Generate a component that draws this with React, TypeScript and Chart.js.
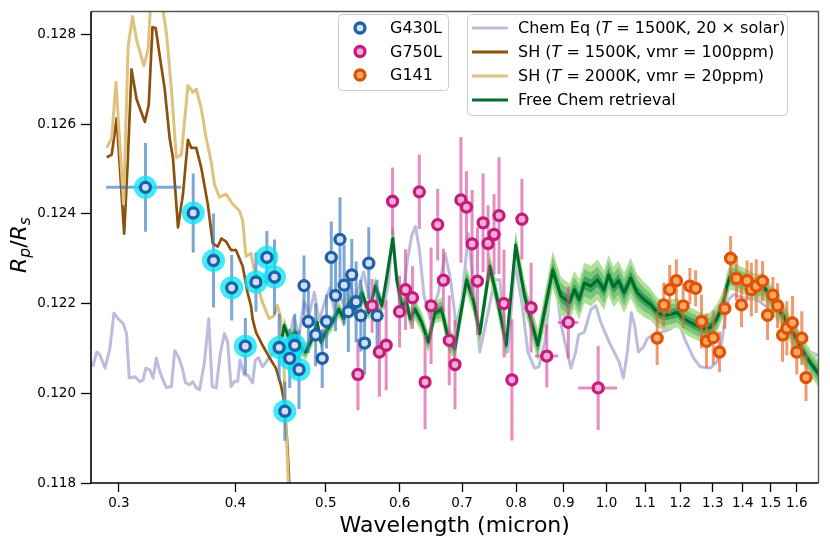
import React, { useEffect, useRef } from 'react';
import { Chart, registerables } from 'chart.js';

Chart.register(...registerables);

const FONT = '"DejaVu Sans", "Liberation Sans", sans-serif';

// ---------------- axis ticks ----------------
const xTickValues = [0.3, 0.4, 0.5, 0.6, 0.7, 0.8, 0.9, 1.0, 1.1, 1.2, 1.3, 1.4, 1.5, 1.6];
const yTickValues = [0.118, 0.12, 0.122, 0.124, 0.126, 0.128];

// ---------------- G430L ----------------
const g430lWl = [0.3203, 0.3604, 0.3789, 0.3963, 0.4099, 0.4208, 0.4323, 0.4405, 0.4456, 0.4519, 0.4574, 0.4631, 0.4680, 0.4738, 0.4789, 0.4876, 0.4956, 0.5009, 0.5068, 0.5122, 0.5178, 0.5231, 0.5286, 0.5331, 0.5389, 0.5452, 0.5503, 0.5560, 0.5675];
const g430lDepth = [0.12459, 0.12402, 0.12296, 0.12235, 0.12105, 0.12248, 0.12303, 0.12259, 0.12102, 0.11960, 0.12078, 0.12107, 0.12053, 0.12240, 0.12160, 0.12130, 0.12078, 0.12160, 0.12303, 0.12218, 0.12343, 0.12241, 0.12182, 0.12264, 0.12204, 0.12173, 0.12112, 0.12290, 0.12173];
const g430lErr = [0.00099, 0.00088, 0.00105, 0.00073, 0.00063, 0.00066, 0.00059, 0.00084, 0.00075, 0.00066, 0.00066, 0.00070, 0.00088, 0.00067, 0.00070, 0.00070, 0.00066, 0.00060, 0.00080, 0.00080, 0.00094, 0.00090, 0.00090, 0.00080, 0.00090, 0.00080, 0.00070, 0.00080, 0.00080];
const g430lXErr = [0.0296, 0, 0, 0, 0, 0, 0, 0, 0, 0, 0, 0, 0, 0, 0, 0, 0, 0, 0, 0, 0, 0, 0, 0, 0, 0, 0, 0, 0];
const g430lFlagged = [1, 1, 1, 1, 1, 1, 1, 1, 1, 1, 1, 1, 1, 0, 0, 0, 0, 0, 0, 0, 0, 0, 0, 0, 0, 0, 0, 0, 0];

// ---------------- G750L ----------------
const g750lWl = [0.5413, 0.5606, 0.5707, 0.5804, 0.5896, 0.5999, 0.6088, 0.6194, 0.6299, 0.6389, 0.6485, 0.6591, 0.6685, 0.6782, 0.6879, 0.6980, 0.7076, 0.7176, 0.7271, 0.7373, 0.7464, 0.7576, 0.7669, 0.7763, 0.7917, 0.8115, 0.8302, 0.8629, 0.9101, 0.9797];
const g750lDepth = [0.12042, 0.12195, 0.12092, 0.12107, 0.12428, 0.12182, 0.12231, 0.12213, 0.12449, 0.12025, 0.12195, 0.12376, 0.12252, 0.12118, 0.12064, 0.12431, 0.12415, 0.12333, 0.12250, 0.12380, 0.12334, 0.12354, 0.12396, 0.12200, 0.12030, 0.12388, 0.12191, 0.12083, 0.12158, 0.12012];
const g750lErr = [0.00080, 0.00060, 0.00100, 0.00100, 0.00075, 0.00080, 0.00090, 0.00070, 0.00083, 0.00105, 0.00130, 0.00080, 0.00070, 0.00100, 0.00100, 0.00140, 0.00080, 0.00120, 0.00120, 0.00110, 0.00085, 0.00090, 0.00130, 0.00120, 0.00135, 0.00090, 0.00100, 0.00070, 0.00080, 0.00094];
const g750lXErr = [0, 0, 0, 0, 0, 0, 0, 0, 0, 0, 0, 0, 0, 0, 0, 0, 0, 0, 0, 0, 0, 0, 0, 0, 0, 0, 0, 0.025, 0.023, 0.047];

// ---------------- G141 ----------------
const g141Wl = [1.1333, 1.1519, 1.1690, 1.1884, 1.2084, 1.2287, 1.2462, 1.2644, 1.2801, 1.3016, 1.3220, 1.3393, 1.3585, 1.3786, 1.3956, 1.4150, 1.4300, 1.4475, 1.4702, 1.4885, 1.5084, 1.5257, 1.5447, 1.5610, 1.5831, 1.5999, 1.6197, 1.6368];
const g141Depth = [0.12123, 0.12197, 0.12231, 0.12251, 0.12195, 0.12239, 0.12234, 0.12160, 0.12116, 0.12124, 0.12092, 0.12189, 0.12301, 0.12256, 0.12197, 0.12251, 0.12231, 0.12239, 0.12250, 0.12174, 0.12219, 0.12195, 0.12130, 0.12145, 0.12157, 0.12092, 0.12123, 0.12035];
const g141Err = [0.00060, 0.00050, 0.00055, 0.00048, 0.00050, 0.00040, 0.00040, 0.00060, 0.00060, 0.00060, 0.00045, 0.00045, 0.00050, 0.00050, 0.00050, 0.00045, 0.00060, 0.00060, 0.00045, 0.00055, 0.00040, 0.00050, 0.00060, 0.00060, 0.00060, 0.00050, 0.00060, 0.00052];

// ---------------- Chem Eq model ----------------
const chemWl = [0.2812, 0.2840, 0.2863, 0.2899, 0.2934, 0.2963, 0.2995, 0.3032, 0.3057, 0.3077, 0.3120, 0.3159, 0.3185, 0.3206, 0.3238, 0.3264, 0.3291, 0.3318, 0.3351, 0.3373, 0.3415, 0.3443, 0.3476, 0.3508, 0.3537, 0.3572, 0.3601, 0.3631, 0.3661, 0.3706, 0.3745, 0.3777, 0.3814, 0.3854, 0.3892, 0.3924, 0.3957, 0.3989, 0.4022, 0.4046, 0.4089, 0.4122, 0.4173, 0.4201, 0.4235, 0.4277, 0.4329, 0.4383, 0.4440, 0.4500, 0.4560, 0.4620, 0.4680, 0.4740, 0.4800, 0.4860, 0.4920, 0.4980, 0.5050, 0.5110, 0.5170, 0.5230, 0.5300, 0.5360, 0.5430, 0.5490, 0.5560, 0.5630, 0.5700, 0.5770, 0.5840, 0.5900, 0.5950, 0.6000, 0.6060, 0.6120, 0.6180, 0.6240, 0.6300, 0.6370, 0.6469, 0.6602, 0.6712, 0.6800, 0.6900, 0.7000, 0.7107, 0.7212, 0.7314, 0.7464, 0.7588, 0.7682, 0.7745, 0.7840, 0.7977, 0.8115, 0.8235, 0.8372, 0.8461, 0.8587, 0.8714, 0.8790, 0.8931, 0.9048, 0.9160, 0.9266, 0.9335, 0.9466, 0.9622, 0.9740, 0.9860, 0.9943, 1.0066, 1.0191, 1.0316, 1.0426, 1.0529, 1.0634, 1.0720, 1.0818, 1.0951, 1.1060, 1.1224, 1.1447, 1.1703, 1.1956, 1.2142, 1.2404, 1.2607, 1.2921, 1.3136, 1.3297, 1.3406, 1.3518, 1.3685, 1.4026, 1.4491, 1.4973, 1.5473, 1.5988, 1.6519, 1.6877];
const chemDepth = [0.12059, 0.12092, 0.12085, 0.12056, 0.12100, 0.12179, 0.12166, 0.12155, 0.12133, 0.12034, 0.12037, 0.12026, 0.12030, 0.12056, 0.12052, 0.12034, 0.12078, 0.12048, 0.12026, 0.12013, 0.12015, 0.12095, 0.12081, 0.12056, 0.12023, 0.12019, 0.12026, 0.12012, 0.12008, 0.12070, 0.12166, 0.12015, 0.12012, 0.12089, 0.12133, 0.12114, 0.12015, 0.12026, 0.12026, 0.12074, 0.12041, 0.12041, 0.12023, 0.12074, 0.12079, 0.12059, 0.12074, 0.12089, 0.12095, 0.12140, 0.12115, 0.12170, 0.12130, 0.12205, 0.12175, 0.12225, 0.12160, 0.12200, 0.12235, 0.12180, 0.12220, 0.12195, 0.12255, 0.12205, 0.12240, 0.12270, 0.12215, 0.12180, 0.12225, 0.12190, 0.12250, 0.12365, 0.12260, 0.12200, 0.12230, 0.12300, 0.12350, 0.12372, 0.12320, 0.12220, 0.12166, 0.12224, 0.12312, 0.12257, 0.12150, 0.12210, 0.12356, 0.12224, 0.12092, 0.12180, 0.12253, 0.12253, 0.12180, 0.12092, 0.12290, 0.12202, 0.12092, 0.12056, 0.12059, 0.12114, 0.12240, 0.12275, 0.12158, 0.12103, 0.12056, 0.12092, 0.12130, 0.12136, 0.12187, 0.12195, 0.12158, 0.12140, 0.12114, 0.12092, 0.12070, 0.12034, 0.12092, 0.12180, 0.12151, 0.12092, 0.12103, 0.12122, 0.12130, 0.12136, 0.12143, 0.12158, 0.12119, 0.12078, 0.12059, 0.12056, 0.12070, 0.12114, 0.12173, 0.12209, 0.12220, 0.12213, 0.12209, 0.12187, 0.12151, 0.12122, 0.12092, 0.12084];

// ---------------- SH models ----------------
const sh1500Wl = [0.2911, 0.2947, 0.2983, 0.3039, 0.3065, 0.3095, 0.3133, 0.3198, 0.3229, 0.3259, 0.3285, 0.3318, 0.3359, 0.3400, 0.3428, 0.3471, 0.3514, 0.3557, 0.3587, 0.3631, 0.3676, 0.3736, 0.3782, 0.3829, 0.3864, 0.3909, 0.3957, 0.4006, 0.4072, 0.4122, 0.4157, 0.4173, 0.4208, 0.4277, 0.4347, 0.4420, 0.4475, 0.4511, 0.4544, 0.4578];
const sh1500Depth = [0.12526, 0.12532, 0.12613, 0.12356, 0.12510, 0.12722, 0.12656, 0.12605, 0.12642, 0.12816, 0.12814, 0.12752, 0.12678, 0.12569, 0.12525, 0.12370, 0.12444, 0.12565, 0.12547, 0.12547, 0.12503, 0.12422, 0.12334, 0.12327, 0.12345, 0.12338, 0.12319, 0.12319, 0.12283, 0.12224, 0.12195, 0.12166, 0.12136, 0.12107, 0.12081, 0.12056, 0.12019, 0.11982, 0.11895, 0.11763];
const sh2000Wl = [0.2911, 0.2947, 0.2978, 0.3035, 0.3069, 0.3103, 0.3133, 0.3190, 0.3224, 0.3245, 0.3334, 0.3373, 0.3415, 0.3457, 0.3500, 0.3557, 0.3601, 0.3631, 0.3676, 0.3721, 0.3767, 0.3798, 0.3845, 0.3909, 0.3973, 0.4039, 0.4072, 0.4106, 0.4157, 0.4208, 0.4277, 0.4347, 0.4401, 0.4437, 0.4475, 0.4511, 0.4536, 0.4561];
const sh2000Depth = [0.12547, 0.12569, 0.12693, 0.12422, 0.12774, 0.12840, 0.12788, 0.12730, 0.12766, 0.12873, 0.12873, 0.12803, 0.12678, 0.12525, 0.12532, 0.12686, 0.12671, 0.12678, 0.12635, 0.12569, 0.12517, 0.12466, 0.12437, 0.12444, 0.12422, 0.12407, 0.12385, 0.12305, 0.12312, 0.12253, 0.12202, 0.12166, 0.12173, 0.12196, 0.12166, 0.12048, 0.11902, 0.11785];

// ---------------- Free Chem retrieval (median + 1 sigma width, in 1e-5) ----------------
const freeWl = [0.4489, 0.4511, 0.4567, 0.4642, 0.4692, 0.4758, 0.4836, 0.4895, 0.4940, 0.4997, 0.5079, 0.5163, 0.5227, 0.5292, 0.5379, 0.5467, 0.5558, 0.5651, 0.5743, 0.5814, 0.5900, 0.5959, 0.6032, 0.6103, 0.6158, 0.6234, 0.6336, 0.6441, 0.6548, 0.6655, 0.6766, 0.6878, 0.7077, 0.7195, 0.7314, 0.7496, 0.7650, 0.7808, 0.7990, 0.8169, 0.8440, 0.8757, 0.8937, 0.9124, 0.9237, 0.9351, 0.9466, 0.9622, 0.9781, 0.9943, 1.0049, 1.0173, 1.0299, 1.0444, 1.0615, 1.0791, 1.0970, 1.1150, 1.1335, 1.1523, 1.1711, 1.1906, 1.2103, 1.2301, 1.2505, 1.2713, 1.2921, 1.3136, 1.3353, 1.3462, 1.3571, 1.3797, 1.4026, 1.4255, 1.4491, 1.4732, 1.4973, 1.5222, 1.5473, 1.5728, 1.5988, 1.6254, 1.6519, 1.6877];
const freeDepth = [0.12125, 0.12151, 0.12122, 0.12136, 0.12103, 0.12092, 0.12122, 0.12158, 0.12114, 0.12136, 0.12158, 0.12187, 0.12166, 0.12202, 0.12187, 0.12224, 0.12180, 0.12239, 0.12195, 0.12261, 0.12345, 0.12253, 0.12195, 0.12202, 0.12166, 0.12187, 0.12158, 0.12114, 0.12180, 0.12187, 0.12122, 0.12100, 0.12253, 0.12209, 0.12133, 0.12283, 0.12202, 0.12107, 0.12330, 0.12217, 0.12107, 0.12275, 0.12217, 0.12202, 0.12231, 0.12209, 0.12246, 0.12239, 0.12253, 0.12230, 0.12264, 0.12237, 0.12251, 0.12224, 0.12257, 0.12224, 0.12209, 0.12198, 0.12180, 0.12173, 0.12176, 0.12180, 0.12166, 0.12158, 0.12151, 0.12144, 0.12147, 0.12166, 0.12202, 0.12239, 0.12261, 0.12257, 0.12250, 0.12242, 0.12235, 0.12239, 0.12217, 0.12195, 0.12173, 0.12144, 0.12122, 0.12092, 0.12070, 0.12044];
const freeSigma = [6, 6, 6, 6, 6, 6, 6, 6, 6, 6, 6, 6, 6, 7, 6, 7, 6, 7, 6, 7, 9, 8, 8, 8, 8, 8, 8, 8, 8, 9, 9, 9, 10, 10, 10, 10, 10, 10, 11, 11, 12, 14, 14, 14, 14, 15, 15, 15, 15, 15, 15, 15, 15, 15, 15, 14, 13, 12, 11, 11, 11, 11, 11, 11, 11, 11, 11, 11, 10, 10, 10, 10, 10, 10, 10, 10, 10, 10, 10, 10, 10, 10, 10, 10];

// ---------------- legend labels ----------------
const dataLegend = ['G430L', 'G750L', 'G141'];
const modelLegend = [
  [{ t: 'Chem Eq (', it: false }, { t: 'T', it: true }, { t: ' = 1500K, 20 × solar)', it: false }],
  [{ t: 'SH (', it: false }, { t: 'T', it: true }, { t: ' = 1500K, vmr = 100ppm)', it: false }],
  [{ t: 'SH (', it: false }, { t: 'T', it: true }, { t: ' = 2000K, vmr = 20ppm)', it: false }],
  [{ t: 'Free Chem retrieval', it: false }],
];

// ---------------- styles ----------------
const BLUE = { face: '#d0e1f2', edge: '#2060a8', bar: 'rgba(55,120,190,0.65)' };
const PINK = { face: '#f2aed3', edge: '#c51b7d', bar: 'rgba(214,70,150,0.62)' };
const ORANGE = { face: '#fdaa68', edge: '#e05206', bar: 'rgba(234,105,45,0.68)' };
const HALO = 'rgba(10,228,245,0.78)';
const CHEM = '#bcbddc';
const SH1500 = '#8c510a';
const SH2000 = '#dfc27d';
const GREEN_LINE = '#006d2c';
const GREEN_BANDS = ['#3aa35a', '#78c679', '#b2e09a'];

const xy = (xs: number[], ys: number[]) => xs.map((x, i) => ({ x, y: ys[i] }));

function vErr(xs: number[], ys: number[], es: number[]) {
  const out: any[] = [];
  xs.forEach((x, i) => {
    out.push({ x, y: ys[i] - es[i] }, { x, y: ys[i] + es[i] }, { x, y: null });
  });
  return out;
}
function hErr(xs: number[], ys: number[], xes: number[]) {
  const out: any[] = [];
  xs.forEach((x, i) => {
    if (xes[i] > 0) out.push({ x: x - xes[i], y: ys[i] }, { x: x + xes[i], y: ys[i] }, { x, y: null });
  });
  return out;
}

function roundRect(ctx: CanvasRenderingContext2D, x: number, y: number, w: number, h: number, r: number) {
  ctx.beginPath();
  ctx.moveTo(x + r, y);
  ctx.lineTo(x + w - r, y);
  ctx.arcTo(x + w, y, x + w, y + r, r);
  ctx.lineTo(x + w, y + h - r);
  ctx.arcTo(x + w, y + h, x + w - r, y + h, r);
  ctx.lineTo(x + r, y + h);
  ctx.arcTo(x, y + h, x, y + h - r, r);
  ctx.lineTo(x, y + r);
  ctx.arcTo(x, y, x + r, y, r);
  ctx.closePath();
}

function drawMarker(ctx: CanvasRenderingContext2D, x: number, y: number, st: { face: string; edge: string }) {
  ctx.beginPath();
  ctx.arc(x, y, 5, 0, Math.PI * 2);
  ctx.fillStyle = st.face;
  ctx.fill();
  ctx.lineWidth = 3.3;
  ctx.strokeStyle = st.edge;
  ctx.stroke();
}

const decorPlugin = {
  id: 'decor',
  afterDraw(chart: any) {
    const ctx: CanvasRenderingContext2D = chart.ctx;
    const { left, right, top, bottom } = chart.chartArea;
    ctx.save();
    // frame
    ctx.lineCap = 'butt';
    ctx.strokeStyle = '#555';
    ctx.lineWidth = 1.4;
    ctx.beginPath();
    ctx.moveTo(left, top);
    ctx.lineTo(right, top);
    ctx.lineTo(right, bottom);
    ctx.stroke();
    ctx.strokeStyle = '#000';
    ctx.lineWidth = 1.6;
    ctx.beginPath();
    ctx.moveTo(left, top);
    ctx.lineTo(left, bottom);
    ctx.lineTo(right, bottom);
    ctx.stroke();

    // x title
    ctx.fillStyle = '#000';
    ctx.font = `22px ${FONT}`;
    ctx.textAlign = 'center';
    ctx.textBaseline = 'alphabetic';
    ctx.fillText('Wavelength (micron)', (left + right) / 2, 532);

    // y title  R_p / R_s
    ctx.save();
    ctx.translate(26, 245);
    ctx.rotate(-Math.PI / 2);
    ctx.textAlign = 'left';
    const parts = [
      { t: 'R', f: `italic 22px ${FONT}`, dy: 0 },
      { t: 'p', f: `italic 15.5px ${FONT}`, dy: 4 },
      { t: '/', f: `22px ${FONT}`, dy: 0 },
      { t: 'R', f: `italic 22px ${FONT}`, dy: 0 },
      { t: 's', f: `italic 15.5px ${FONT}`, dy: 4 },
    ];
    let total = 0;
    parts.forEach((p) => {
      ctx.font = p.f;
      total += ctx.measureText(p.t).width;
    });
    let cx = -total / 2;
    parts.forEach((p) => {
      ctx.font = p.f;
      ctx.fillText(p.t, cx, p.dy);
      cx += ctx.measureText(p.t).width;
    });
    ctx.restore();

    // legend 1 (data)
    ctx.lineWidth = 1;
    roundRect(ctx, 338.5, 14.5, 110, 76, 4);
    ctx.fillStyle = 'rgba(255,255,255,0.85)';
    ctx.fill();
    ctx.strokeStyle = '#cccccc';
    ctx.stroke();
    const styles = [BLUE, PINK, ORANGE];
    const rows1 = [28, 51.5, 75];
    ctx.textBaseline = 'middle';
    dataLegend.forEach((name, i) => {
      drawMarker(ctx, 360, rows1[i], styles[i]);
      ctx.fillStyle = '#000';
      ctx.font = `16px ${FONT}`;
      ctx.textAlign = 'left';
      ctx.fillText(name, 390, rows1[i] + 1);
    });

    // legend 2 (models)
    ctx.lineWidth = 1;
    roundRect(ctx, 467.5, 14.5, 320, 101, 4);
    ctx.fillStyle = 'rgba(255,255,255,0.85)';
    ctx.fill();
    ctx.strokeStyle = '#cccccc';
    ctx.stroke();
    const lineCols = [CHEM, SH1500, SH2000, GREEN_LINE];
    const lineW = [3.2, 3, 3.2, 3.2];
    const rows2 = [28, 52, 76, 100];
    modelLegend.forEach((segs, i) => {
      ctx.beginPath();
      ctx.moveTo(472, rows2[i]);
      ctx.lineTo(508, rows2[i]);
      ctx.strokeStyle = lineCols[i];
      ctx.lineWidth = lineW[i];
      ctx.stroke();
      let tx = 518;
      ctx.fillStyle = '#000';
      segs.forEach((s) => {
        ctx.font = `${s.it ? 'italic ' : ''}16px ${FONT}`;
        ctx.fillText(s.t, tx, rows2[i] + 1);
        tx += ctx.measureText(s.t).width;
      });
    });
    ctx.restore();
  },
};

export default function App() {
  const ref = useRef<HTMLCanvasElement | null>(null);

  useEffect(() => {
    if (!ref.current) return;
    Chart.defaults.font.family = FONT;

    const upper = (k: number) => freeDepth.map((v, i) => v + k * freeSigma[i] * 1e-5);
    const lower = (k: number) => freeDepth.map((v, i) => v - k * freeSigma[i] * 1e-5);

    const lineBase = { type: 'line', pointRadius: 0, fill: false, tension: 0, spanGaps: false, borderJoinStyle: 'round' };
    const errBase = { type: 'line', pointRadius: 0, fill: false, tension: 0, spanGaps: false, borderWidth: 3, borderCapStyle: 'butt', order: 3 };
    const bandBase = { type: 'line', pointRadius: 0, tension: 0, borderWidth: 0, borderColor: 'rgba(0,0,0,0)' };

    const datasets: any[] = [
      // 0-2 markers
      { type: 'scatter', data: xy(g430lWl, g430lDepth), pointRadius: 5, pointBorderWidth: 3.3, pointBackgroundColor: BLUE.face, pointBorderColor: BLUE.edge, order: 1 },
      { type: 'scatter', data: xy(g750lWl, g750lDepth), pointRadius: 5, pointBorderWidth: 3.3, pointBackgroundColor: PINK.face, pointBorderColor: PINK.edge, order: 1 },
      { type: 'scatter', data: xy(g141Wl, g141Depth), pointRadius: 5, pointBorderWidth: 3.3, pointBackgroundColor: ORANGE.face, pointBorderColor: ORANGE.edge, order: 1 },
      // 3 halos
      { type: 'scatter', data: xy(g430lWl.filter((_, i) => g430lFlagged[i]), g430lDepth.filter((_, i) => g430lFlagged[i])), pointRadius: 11.5, pointBorderWidth: 0, pointBackgroundColor: HALO, order: 2 },
      // 4-8 error bars
      { ...errBase, data: vErr(g430lWl, g430lDepth, g430lErr), borderColor: BLUE.bar },
      { ...errBase, data: hErr(g430lWl, g430lDepth, g430lXErr), borderColor: BLUE.bar },
      { ...errBase, data: vErr(g750lWl, g750lDepth, g750lErr), borderColor: PINK.bar },
      { ...errBase, data: hErr(g750lWl, g750lDepth, g750lXErr), borderColor: PINK.bar },
      { ...errBase, data: vErr(g141Wl, g141Depth, g141Err), borderColor: ORANGE.bar },
      // 9 green median
      { ...lineBase, data: xy(freeWl, freeDepth), borderColor: GREEN_LINE, borderWidth: 3, order: 4 },
      // 10-15 bands
      { ...bandBase, data: xy(freeWl, lower(1)), fill: false, order: 5 },
      { ...bandBase, data: xy(freeWl, upper(1)), fill: 10, backgroundColor: GREEN_BANDS[0], order: 5 },
      { ...bandBase, data: xy(freeWl, lower(2)), fill: false, order: 6 },
      { ...bandBase, data: xy(freeWl, upper(2)), fill: 12, backgroundColor: GREEN_BANDS[1], order: 6 },
      { ...bandBase, data: xy(freeWl, lower(3)), fill: false, order: 7 },
      { ...bandBase, data: xy(freeWl, upper(3)), fill: 14, backgroundColor: GREEN_BANDS[2], order: 7 },
      // 16-18 model lines
      { ...lineBase, data: xy(sh2000Wl, sh2000Depth), borderColor: SH2000, borderWidth: 3, order: 8 },
      { ...lineBase, data: xy(sh1500Wl, sh1500Depth), borderColor: SH1500, borderWidth: 2.7, order: 9 },
      { ...lineBase, data: xy(chemWl, chemDepth), borderColor: CHEM, borderWidth: 3, order: 10 },
    ];

    const chart = new Chart(ref.current, {
      type: 'line',
      data: { datasets },
      plugins: [decorPlugin],
      options: {
        responsive: false,
        animation: false,
        events: [],
        layout: { padding: { left: 0, top: 5, right: 8, bottom: 0 } },
        plugins: { legend: { display: false }, tooltip: { enabled: false }, title: { display: false } },
        scales: {
          x: {
            type: 'logarithmic',
            min: 0.28,
            max: 1.688,
            afterBuildTicks: (s: any) => {
              s.ticks = xTickValues.map((value) => ({ value }));
            },
            afterFit: (s: any) => {
              s.height = 57;
              s.paddingLeft = 0;
              s.paddingRight = 0;
              s.paddingTop = 0;
              s.paddingBottom = 0;
            },
            ticks: {
              autoSkip: false,
              maxRotation: 0,
              minRotation: 0,
              padding: 3,
              color: '#000',
              font: { family: FONT, size: 13.5 },
              callback: (v: any) => Number(v).toFixed(1),
            },
            grid: { display: true, drawOnChartArea: false, drawTicks: true, tickLength: 9, tickWidth: 1.3, tickColor: '#000', color: '#000' },
            border: { display: false },
          },
          y: {
            type: 'linear',
            min: 0.118,
            max: 0.12851,
            afterBuildTicks: (s: any) => {
              s.ticks = yTickValues.map((value) => ({ value }));
            },
            afterFit: (s: any) => {
              s.width = 91;
              s.paddingLeft = 0;
              s.paddingRight = 0;
              s.paddingTop = 0;
              s.paddingBottom = 0;
            },
            ticks: {
              padding: 5,
              color: '#000',
              font: { family: FONT, size: 13.5 },
              callback: (v: any) => Number(v).toFixed(3),
            },
            grid: { display: true, drawOnChartArea: false, drawTicks: true, tickLength: 10, tickWidth: 1.3, tickColor: '#000', color: '#000' },
            border: { display: false },
          },
        },
      } as any,
    } as any);

    return () => chart.destroy();
  }, []);

  return (
    <div style={{ position: 'fixed', left: 0, top: 0, width: 830, height: 540, background: '#fff' }}>
      <canvas ref={ref} width={830} height={540} style={{ display: 'block' }} />
    </div>
  );
}
